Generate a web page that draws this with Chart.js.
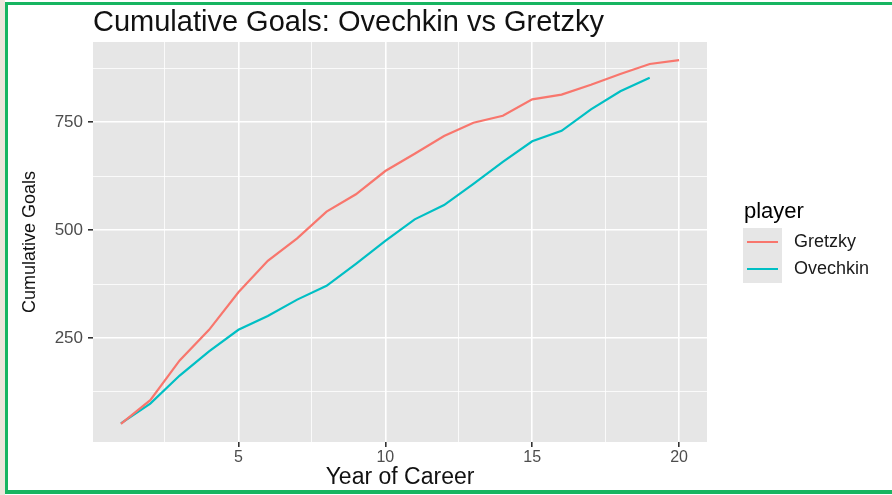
<!DOCTYPE html>
<html>
<head>
<meta charset="utf-8">
<script src="https://cdn.jsdelivr.net/npm/chart.js@4"></script>
<style>
  html, body { margin: 0; background: #fff; overflow: hidden; }
  #wrap { position: relative; width: 892px; height: 495px; overflow: hidden; background: #fff; }
  #strip { position: absolute; left: 0; top: 0; width: 5px; height: 495px; background: #ece6dc; }
  .edge { position: absolute; background: #17b561; pointer-events: none; }
  #title { position: absolute; left: 93px; top: 5px; font: 29px 'Liberation Sans', Arial, sans-serif;
           line-height: 32px; color: #111; white-space: nowrap; }
  canvas { position: absolute; left: 0; top: 0; }
</style>
</head>
<body>
<div id="wrap">
  <canvas id="chart" width="892" height="495"></canvas>
  <div id="strip"></div>
  <div class="edge" style="left:5px; top:2px; width:3px; height:492px;"></div>
  <div class="edge" style="left:5px; top:2px; width:887px; height:3px;"></div>
  <div class="edge" style="left:5px; top:490px; width:887px; height:4px;"></div>
  <div id="title">Cumulative Goals: Ovechkin vs Gretzky</div>
</div>
<script>
// data
const years = [1, 2, 3, 4, 5, 6, 7, 8, 9, 10, 11, 12, 13, 14, 15, 16, 17, 18, 19, 20];
const gretzky = [51, 106, 198, 269, 356, 429, 481, 543, 583, 637, 677, 718, 749, 765, 803, 814, 837, 862, 885, 894];
const ovechkin = [52, 98, 163, 219, 269, 301, 339, 371, 422, 475, 525, 558, 607, 658, 706, 730, 780, 822, 853];

const majorX = [5, 10, 15, 20];
const minorX = [2.5, 7.5, 12.5, 17.5];
const majorY = [250, 500, 750];
const minorY = [125, 375, 625, 875];

const panelBg = '#e6e6e6';

function toPoints(vals) {
    return vals.map((v, i) => ({ x: years[i], y: v }));
}

function gridOpts(major) {
    return {
        color: '#ffffff',
        lineWidth: ctx => major.includes(ctx.tick.value) ? 1.6 : 0.8,
        tickColor: ctx => major.includes(ctx.tick.value) ? '#333333' : 'rgba(0,0,0,0)',
        tickLength: 5,
        drawTicks: true
    };
}

const panel = {
    id: 'panel',
    beforeDraw(chart) {
        const a = chart.chartArea;
        const c = chart.ctx;
        c.save();
        c.fillStyle = panelBg;
        c.fillRect(a.left, a.top, a.right - a.left, a.bottom - a.top);
        c.restore();
    }
};

// ggplot style legend at the right
const sideLegend = {
    id: 'sideLegend',
    afterDraw(chart) {
        const c = chart.ctx;
        const items = chart.data.datasets.slice().sort((a, b) => a.label.localeCompare(b.label));
        c.save();
        c.fillStyle = '#000';
        c.font = "22px 'Liberation Sans', Arial, sans-serif";
        c.textBaseline = 'middle';
        c.fillText('player', 744, 212);
        c.fillStyle = panelBg;
        c.fillRect(743, 228, 39, 55);
        items.forEach((ds, i) => {
            const y = 242 + i * 27;
            c.strokeStyle = ds.borderColor;
            c.lineWidth = 2;
            c.beginPath();
            c.moveTo(747, y);
            c.lineTo(778, y);
            c.stroke();
            c.fillStyle = '#1a1a1a';
            c.font = "18px 'Liberation Sans', Arial, sans-serif";
            c.fillText(ds.label, 794, y);
        });
        c.restore();
    }
};

new Chart(document.getElementById('chart'), {
    type: 'line',
    data: {
        datasets: [{
            label: 'Gretzky',
            data: toPoints(gretzky),
            borderColor: '#f8766d',
            borderWidth: 2.2,
            pointRadius: 0,
            tension: 0
        }, {
            label: 'Ovechkin',
            data: toPoints(ovechkin),
            borderColor: '#00bfc4',
            borderWidth: 2.2,
            pointRadius: 0,
            tension: 0
        }]
    },
    options: {
        responsive: false,
        animation: false,
        layout: { padding: { top: 42, right: 185, left: 0, bottom: 0 } },
        plugins: {
            legend: { display: false },
            tooltip: { enabled: false }
        },
        scales: {
            x: {
                type: 'linear',
                min: 0.05,
                max: 20.95,
                border: { display: false },
                grid: gridOpts(majorX),
                afterBuildTicks: s => { s.ticks = majorX.concat(minorX).sort((a, b) => a - b).map(v => ({ value: v })); },
                afterFit: s => { s.height = 53; },
                ticks: {
                    autoSkip: false,
                    maxRotation: 0,
                    padding: 1,
                    color: '#4d4d4d',
                    font: { family: "'Liberation Sans', Arial, sans-serif", size: 16 },
                    callback: v => majorX.includes(v) ? String(v) : ''
                },
                title: {
                    display: true,
                    text: 'Year of Career',
                    color: '#111',
                    font: { family: "'Liberation Sans', Arial, sans-serif", size: 23 },
                    padding: { top: 0, bottom: 4 }
                }
            },
            y: {
                type: 'linear',
                min: 9,
                max: 936,
                border: { display: false },
                grid: gridOpts(majorY),
                afterBuildTicks: s => { s.ticks = majorY.concat(minorY).sort((a, b) => a - b).map(v => ({ value: v })); },
                afterFit: s => { s.width = 93; },
                ticks: {
                    autoSkip: false,
                    padding: 5,
                    color: '#4d4d4d',
                    font: { family: "'Liberation Sans', Arial, sans-serif", size: 17 },
                    callback: v => majorY.includes(v) ? String(v) : ''
                },
                title: {
                    display: true,
                    text: 'Cumulative Goals',
                    color: '#111',
                    font: { family: "'Liberation Sans', Arial, sans-serif", size: 18 },
                    padding: { top: 19, bottom: 0 }
                }
            }
        }
    },
    plugins: [panel, sideLegend]
});
</script>
</body>
</html>
